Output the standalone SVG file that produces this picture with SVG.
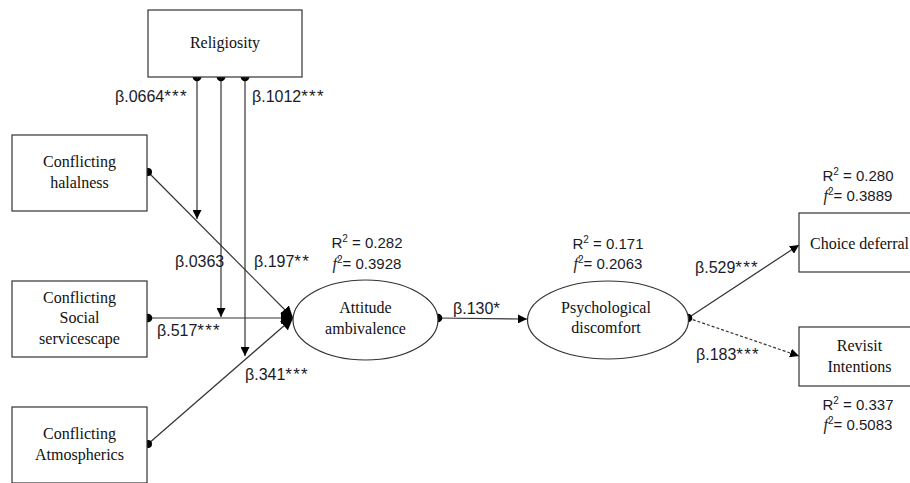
<svg xmlns="http://www.w3.org/2000/svg" width="910" height="483" viewBox="0 0 910 483">
<style>
.box{fill:#fff;stroke:#333;stroke-width:1.2}
.ell{fill:#fff;stroke:#333;stroke-width:1.2}
.n{font-family:"Liberation Serif","Times New Roman",serif;font-size:16px;fill:#111;text-anchor:middle}
.b{font-family:"Liberation Sans",Arial,sans-serif;font-size:16px;fill:#1a1a2a}
.st{font-size:17px;letter-spacing:1.2px}
.s{font-family:"Liberation Sans",Arial,sans-serif;font-size:15px;fill:#1a1a2a;text-anchor:middle}
.fi{font-family:"Liberation Serif","Times New Roman",serif;font-style:italic;font-size:16px}
.ln{stroke:#333;stroke-width:1.2;fill:none}
.dot{fill:#000}
</style>
<defs>
<marker id="ah" viewBox="0 0 10 10" refX="10" refY="5" markerWidth="9" markerHeight="9" markerUnits="userSpaceOnUse" orient="auto">
<path d="M0,0 L10,5 L0,10 z" fill="#000"/>
</marker>
<marker id="ahb" viewBox="0 0 10 10" refX="10" refY="5" markerWidth="12" markerHeight="12" markerUnits="userSpaceOnUse" orient="auto">
<path d="M0,0 L10,5 L0,10 z" fill="#000"/>
</marker>
</defs>

<g id="connectors">
<line class="ln" x1="197" y1="77" x2="197" y2="219" marker-end="url(#ah)"/>
<line class="ln" x1="221" y1="77" x2="221" y2="317" marker-end="url(#ah)"/>
<line class="ln" x1="245" y1="77" x2="245" y2="356" marker-end="url(#ah)"/>
<line class="ln" x1="148" y1="172" x2="293" y2="318" marker-end="url(#ahb)"/>
<line class="ln" x1="148" y1="318" x2="293" y2="318" marker-end="url(#ahb)"/>
<line class="ln" x1="148" y1="444" x2="293" y2="318" marker-end="url(#ahb)"/>
<line class="ln" x1="438" y1="318" x2="527" y2="319" marker-end="url(#ah)"/>
<line class="ln" x1="688" y1="318" x2="799" y2="245" marker-end="url(#ah)"/>
<line class="ln" x1="688" y1="318" x2="799" y2="356" stroke-dasharray="3,2" marker-end="url(#ah)"/>
<circle class="dot" cx="197" cy="77" r="4.3"/>
<circle class="dot" cx="221" cy="77" r="4.3"/>
<circle class="dot" cx="245" cy="77" r="4.3"/>
<circle class="dot" cx="148" cy="172" r="4"/>
<circle class="dot" cx="148" cy="318" r="4.3"/>
<circle class="dot" cx="148" cy="444" r="4"/>
<circle class="dot" cx="438" cy="318" r="4.3"/>
<circle class="dot" cx="688" cy="318" r="4.3"/>
<text class="b" x="115" y="102">β.0664<tspan class="st">***</tspan></text>
<text class="b" x="252" y="102">β.1012<tspan class="st">***</tspan></text>
<text class="b" x="175" y="267">β.0363</text>
<text class="b" x="254" y="267">β.197<tspan class="st">**</tspan></text>
<text class="b" x="157" y="336">β.517<tspan class="st">***</tspan></text>
<text class="b" x="245" y="380">β.341<tspan class="st">***</tspan></text>
<text class="b" x="453" y="314">β.130<tspan class="st">*</tspan></text>
<text class="b" x="695" y="273">β.529<tspan class="st">***</tspan></text>
<text class="b" x="696" y="360">β.183<tspan class="st">***</tspan></text>
</g>

<g id="religiosity">
<rect class="box" x="148" y="10" width="154" height="67"/>
<text class="n" x="225" y="48">Religiosity</text>
</g>

<g id="halalness">
<rect class="box" x="12" y="135" width="135" height="76"/>
<text class="n" x="79.5" y="167">Conflicting</text>
<text class="n" x="79.5" y="188">halalness</text>
</g>

<g id="servicescape">
<rect class="box" x="12" y="281" width="135" height="76"/>
<text class="n" x="79.5" y="303">Conflicting</text>
<text class="n" x="79.5" y="323">Social</text>
<text class="n" x="79.5" y="344">servicescape</text>
</g>

<g id="atmospherics">
<rect class="box" x="12" y="407" width="135" height="76"/>
<text class="n" x="79.5" y="439">Conflicting</text>
<text class="n" x="79.5" y="460">Atmospherics</text>
</g>

<g id="attitude">
<ellipse class="ell" cx="365.5" cy="320" rx="72.5" ry="40"/>
<text class="n" x="365.5" y="313">Attitude</text>
<text class="n" x="365.5" y="334">ambivalence</text>
<text class="s" x="367" y="248">R<tspan font-size="10" dy="-6">2</tspan><tspan dy="6"> = 0.282</tspan></text>
<text class="s" x="367" y="269"><tspan class="fi">f</tspan><tspan font-size="10" dy="-6">2</tspan><tspan dy="6">= 0.3928</tspan></text>
</g>

<g id="discomfort">
<ellipse class="ell" cx="608" cy="320" rx="80.5" ry="39"/>
<text class="n" x="606" y="313">Psychological</text>
<text class="n" x="606" y="333">discomfort</text>
<text class="s" x="608" y="249">R<tspan font-size="10" dy="-6">2</tspan><tspan dy="6"> = 0.171</tspan></text>
<text class="s" x="608" y="269"><tspan class="fi">f</tspan><tspan font-size="10" dy="-6">2</tspan><tspan dy="6">= 0.2063</tspan></text>
</g>

<g id="choice">
<rect class="box" x="799" y="213" width="125" height="59"/>
<text class="n" x="859.5" y="249">Choice deferral</text>
<text class="s" x="858" y="181">R<tspan font-size="10" dy="-6">2</tspan><tspan dy="6"> = 0.280</tspan></text>
<text class="s" x="858" y="201"><tspan class="fi">f</tspan><tspan font-size="10" dy="-6">2</tspan><tspan dy="6">= 0.3889</tspan></text>
</g>

<g id="revisit">
<rect class="box" x="799" y="327" width="125" height="59"/>
<text class="n" x="859.5" y="351">Revisit</text>
<text class="n" x="859.5" y="372">Intentions</text>
<text class="s" x="858" y="410">R<tspan font-size="10" dy="-6">2</tspan><tspan dy="6"> = 0.337</tspan></text>
<text class="s" x="858" y="430"><tspan class="fi">f</tspan><tspan font-size="10" dy="-6">2</tspan><tspan dy="6">= 0.5083</tspan></text>
</g>
</svg>
